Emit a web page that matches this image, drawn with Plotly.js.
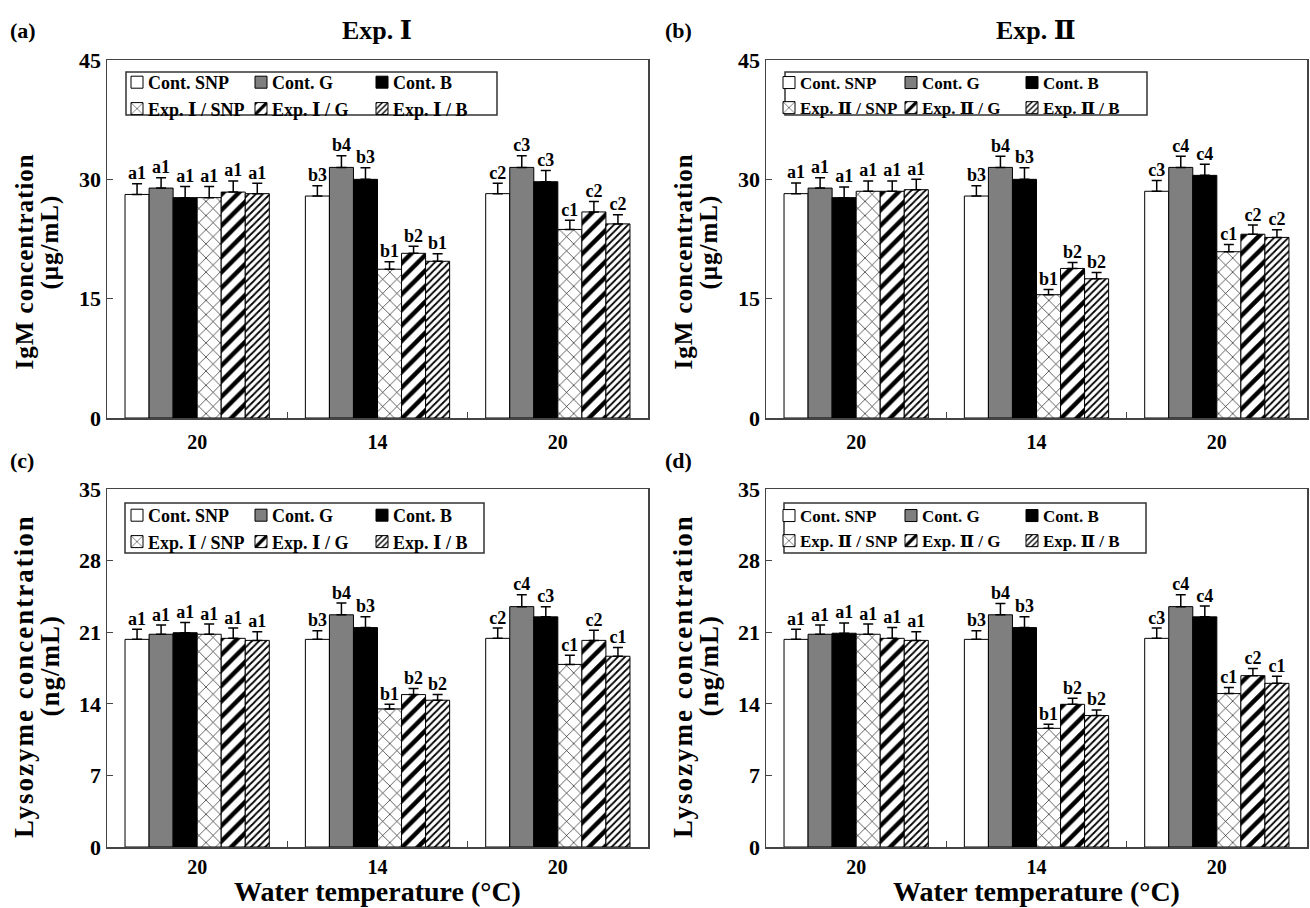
<!DOCTYPE html>
<html>
<head>
<meta charset="utf-8">
<script src="https://cdn.plot.ly/plotly-3.0.1.min.js"></script>
<style>
html,body{margin:0;padding:0;background:#fff;}
g.annotation[data-index="6"] text, g.annotation[data-index="8"] text { letter-spacing: 1px; }
g.annotation[data-index="10"] text, g.annotation[data-index="12"] text { letter-spacing: 2px; }
g.annotation[data-index="7"] text, g.annotation[data-index="9"] text,
g.annotation[data-index="11"] text, g.annotation[data-index="13"] text { letter-spacing: 1px; }
.legendpoints path { translate: 9px 0px; }
</style>
</head>
<body>
<div id="chart" style="width:1310px;height:908px;"></div>
<script>
// ---------------- DATA ----------------
const categories = ['20', '14', '20'];
const seriesNamesI  = ['Cont. SNP', 'Cont. G', 'Cont. B', 'Exp. Ⅰ / SNP', 'Exp. Ⅰ / G', 'Exp. Ⅰ / B'];
const seriesNamesII = ['Cont. SNP', 'Cont. G', 'Cont. B', 'Exp. Ⅱ / SNP', 'Exp. Ⅱ / G', 'Exp. Ⅱ / B'];

// (a) IgM, Exp. I  (rows: Cont SNP, Cont G, Cont B, Exp SNP, Exp G, Exp B)
const igmExpI = [[28.1, 27.9, 28.2], [28.9, 31.5, 31.5], [27.7, 30.0, 29.7], [27.7, 18.7, 23.7], [28.4, 20.7, 25.9], [28.2, 19.7, 24.4]];
const igmExpIErr = [[1.35, 1.3, 1.3], [1.3, 1.45, 1.45], [1.4, 1.45, 1.4], [1.4, 0.95, 1.15], [1.4, 0.9, 1.3], [1.3, 0.95, 1.15]];
const igmExpILetters = [['a1', 'b3', 'c2'], ['a1', 'b4', 'c3'], ['a1', 'b3', 'c3'], ['a1', 'b1', 'c1'], ['a1', 'b2', 'c2'], ['a1', 'b1', 'c2']];

// (b) IgM, Exp. II
const igmExpII = [[28.2, 27.9, 28.5], [28.9, 31.5, 31.5], [27.7, 30.0, 30.5], [28.5, 15.5, 20.9], [28.5, 18.8, 23.1], [28.7, 17.5, 22.7]];
const igmExpIIErr = [[1.35, 1.3, 1.35], [1.3, 1.4, 1.4], [1.35, 1.45, 1.4], [1.3, 0.65, 0.9], [1.3, 0.75, 1.15], [1.3, 0.8, 0.95]];
const igmExpIILetters = [['a1', 'b3', 'c3'], ['a1', 'b4', 'c4'], ['a1', 'b3', 'c4'], ['a1', 'b1', 'c1'], ['a1', 'b2', 'c2'], ['a1', 'b2', 'c2']];

// (c) Lysozyme, Exp. I
const lysExpI = [[20.3, 20.3, 20.4], [20.8, 22.7, 23.5], [20.95, 21.45, 22.5], [20.8, 13.5, 17.85], [20.4, 14.9, 20.2], [20.2, 14.35, 18.65]];
const lysExpIErr = [[1.0, 0.85, 1.0], [0.9, 1.15, 1.15], [1.0, 1.05, 1.0], [1.0, 0.45, 0.9], [1.0, 0.6, 1.0], [0.85, 0.55, 0.85]];
const lysExpILetters = [['a1', 'b3', 'c2'], ['a1', 'b4', 'c4'], ['a1', 'b3', 'c3'], ['a1', 'b1', 'c1'], ['a1', 'b2', 'c2'], ['a1', 'b2', 'c1']];

// (d) Lysozyme, Exp. II
const lysExpII = [[20.3, 20.3, 20.4], [20.8, 22.7, 23.5], [20.9, 21.45, 22.5], [20.8, 11.6, 15.0], [20.4, 13.95, 16.75], [20.2, 12.85, 16.0]];
const lysExpIIErr = [[1.0, 0.85, 1.0], [0.9, 1.1, 1.15], [1.0, 1.05, 1.05], [1.0, 0.4, 0.6], [1.05, 0.6, 0.7], [0.85, 0.55, 0.7]];
const lysExpIILetters = [['a1', 'b3', 'c3'], ['a1', 'b4', 'c4'], ['a1', 'b3', 'c4'], ['a1', 'b1', 'c1'], ['a1', 'b2', 'c2'], ['a1', 'b2', 'c1']];

const yTitleLine1 = ['IgM concentration', 'IgM concentration', 'Lysozyme concentration', 'Lysozyme concentration'];
const yTitleLine2 = ['(μg/mL)', '(μg/mL)', '(ng/mL)', '(ng/mL)'];
const xTitle = 'Water temperature (°C)';

// ---------------- STYLE ----------------
const W = 1310, H = 908;
const FONT = '"Liberation Serif", "DejaVu Serif", "Times New Roman", serif';
const px = v => v / W;
const py = v => 1 - v / H;
const BARGAP = 0.2;

const seriesStyles = [
  { color: '#ffffff' },
  { color: '#7f7f7f' },
  { color: '#000000' },
  { color: '#ffffff', pattern: { shape: 'x', size: 10, solidity: 0.12, fgcolor: '#000', bgcolor: '#fff' } },
  { color: '#ffffff', pattern: { shape: '/', size: 11, solidity: 0.4, fgcolor: '#000', bgcolor: '#fff' } },
  { color: '#ffffff', pattern: { shape: '/', size: 5, solidity: 0.35, fgcolor: '#000', bgcolor: '#fff' } }
];

const panels = [
  { vals: igmExpI,  errs: igmExpIErr,  lets: igmExpILetters,  names: seriesNamesI,  xa: 'x',  ya: 'y',
    box: [107, 648, 60, 418], leg: [126, 497, 72, 115], legX: [108, 232, 353], legTop: 64, legFont: 18, legNames: ['legend', 'legend2', 'legend3'],
    range: [0, 45], tickvals: [0, 15, 30, 45], tTitleX: [24, 50], tTitleY: [262, 242], tFont: 25 },
  { vals: igmExpII, errs: igmExpIIErr, lets: igmExpIILetters, names: seriesNamesII, xa: 'x2', ya: 'y2',
    box: [766, 1307, 60, 418], leg: [785, 1147, 72, 115], legX: [760, 882, 1003], legTop: 65, legFont: 17, legNames: ['legend4', 'legend5', 'legend6'],
    range: [0, 45], tickvals: [0, 15, 30, 45], tTitleX: [683, 709], tTitleY: [262, 242], tFont: 25 },
  { vals: lysExpI,  errs: lysExpIErr,  lets: lysExpILetters,  names: seriesNamesI,  xa: 'x3', ya: 'y3',
    box: [107, 648, 489, 847], leg: [125, 484, 503, 553], legX: [108, 232, 353], legTop: 497, legFont: 18, legNames: ['legend7', 'legend8', 'legend9'],
    range: [0, 35], tickvals: [0, 7, 14, 21, 28, 35], tTitleX: [24, 50], tTitleY: [676, 666], tFont: 27 },
  { vals: lysExpII, errs: lysExpIIErr, lets: lysExpIILetters, names: seriesNamesII, xa: 'x4', ya: 'y4',
    box: [766, 1307, 489, 847], leg: [784, 1146, 503, 553], legX: [760, 882, 1003], legTop: 498, legFont: 17, legNames: ['legend10', 'legend11', 'legend12'],
    range: [0, 35], tickvals: [0, 7, 14, 21, 28, 35], tTitleX: [683, 709], tTitleY: [676, 666], tFont: 27 }
];

const catIdx = categories.map((c, i) => i);
const barW = (1 - BARGAP) / 6;
const offsets = [0, 1, 2, 3, 4, 5].map(i => (i - 2.5) * barW);

const traces = [];
panels.forEach((p) => {
  for (let s = 0; s < 6; s++) {
    const st = seriesStyles[s];
    const marker = { color: st.color, line: { color: '#000', width: 1 } };
    if (st.pattern) marker.pattern = st.pattern;
    traces.push({
      type: 'bar', x: catIdx, y: p.vals[s], name: p.names[s],
      xaxis: p.xa, yaxis: p.ya, marker: marker,
      legend: p.legNames[s % 3],
      error_y: { type: 'data', symmetric: false, array: p.errs[s], arrayminus: [0, 0, 0],
                 color: '#000', thickness: 1.5, width: 5 },
      hoverinfo: 'y'
    });
  }
  for (let s = 0; s < 6; s++) {
    traces.push({
      type: 'scatter', mode: 'text', xaxis: p.xa, yaxis: p.ya,
      x: catIdx.map(i => i + offsets[s]),
      y: p.vals[s].map((v, i) => v + p.errs[s][i]),
      text: p.lets[s], textposition: 'top center',
      textfont: { family: FONT, size: 18, color: '#000', weight: 'bold' },
      showlegend: false, cliponaxis: false, hoverinfo: 'skip'
    });
  }
});

const layout = {
  width: W, height: H,
  margin: { l: 0, r: 0, t: 0, b: 0 },
  paper_bgcolor: '#fff', plot_bgcolor: '#fff',
  font: { family: FONT, size: 16, color: '#000', weight: 'bold' },
  barmode: 'group', bargap: BARGAP, bargroupgap: 0,
  shapes: [], annotations: []
};

const ann = (text, x, y, size, xanchor, extra) => Object.assign({
  text: text, xref: 'paper', yref: 'paper', x: px(x), y: py(y),
  xanchor: xanchor, yanchor: 'middle', showarrow: false,
  font: { family: FONT, size: size, weight: 'bold', color: '#000' }
}, extra || {});

// panel letters and titles (indices 0..5)
layout.annotations.push(ann('(a)', 8, 30, 22, 'left'));
layout.annotations.push(ann('Exp. Ⅰ', 377, 30, 26, 'center'));
layout.annotations.push(ann('(b)', 663, 30, 22, 'left'));
layout.annotations.push(ann('Exp. Ⅱ', 1036, 30, 26, 'center'));
layout.annotations.push(ann('(c)', 8, 460, 22, 'left'));
layout.annotations.push(ann('(d)', 663, 460, 22, 'left'));

panels.forEach((p, k) => {
  const xn = k === 0 ? 'xaxis' : 'xaxis' + (k + 1);
  const yn = k === 0 ? 'yaxis' : 'yaxis' + (k + 1);
  const [x0, x1, y0, y1] = p.box;
  layout[xn] = {
    domain: [px(x0), px(x1)], anchor: p.ya, range: [-0.5, 2.5],
    tickmode: 'array', tickvals: catIdx, ticktext: categories, ticks: '',
    tickfont: { family: FONT, size: 20, weight: 'bold' }, ticklabelstandoff: k >= 2 ? 1 : 5,
    showline: true, mirror: true, linecolor: '#444', linewidth: 1.5,
    showgrid: false, zeroline: false, fixedrange: true,
    minor: { tickmode: 'array', tickvals: [0.5, 1.5], ticks: 'inside', ticklen: 6, tickcolor: '#444', tickwidth: 1.2 }
  };
  layout[yn] = {
    domain: [py(y1), py(y0)], anchor: p.xa, range: p.range,
    tickmode: 'array', tickvals: p.tickvals, ticks: 'inside', ticklen: 6, tickcolor: '#444',
    tickfont: { family: FONT, size: 22, weight: 'bold' },
    showline: true, mirror: true, linecolor: '#444', linewidth: 1.5,
    showgrid: false, zeroline: false, fixedrange: true
  };
  // y titles (two lines, indices 6..13)
  layout.annotations.push(ann(yTitleLine1[k], p.tTitleX[0], p.tTitleY[0], p.tFont, 'center', { textangle: -90 }));
  layout.annotations.push(ann(yTitleLine2[k], p.tTitleX[1], p.tTitleY[1], p.tFont, 'center', { textangle: -90 }));
  // legend frame
  layout.shapes.push({ type: 'rect', xref: 'paper', yref: 'paper',
    x0: px(p.leg[0]), x1: px(p.leg[1]), y0: py(p.leg[3]), y1: py(p.leg[2]),
    line: { color: '#333', width: 1.5 }, fillcolor: 'rgba(0,0,0,0)' });
  p.legNames.forEach((ln, c) => {
    layout[ln] = {
      x: px(p.legX[c]), y: py(p.legTop), xanchor: 'left', yanchor: 'top',
      orientation: 'v', bgcolor: 'rgba(0,0,0,0)', borderwidth: 0,
      font: { family: FONT, size: p.legFont, weight: 'bold', color: '#000' },
      itemwidth: 30, tracegroupgap: 0, itemclick: false, itemdoubleclick: false
    };
  });
});

// x titles under bottom panels
layout.annotations.push(ann(xTitle, 377, 891, 28, 'center'));
layout.annotations.push(ann(xTitle, 1036, 891, 28, 'center'));

Plotly.newPlot('chart', traces, layout, { staticPlot: true, displayModeBar: false });
</script>
</body>
</html>
